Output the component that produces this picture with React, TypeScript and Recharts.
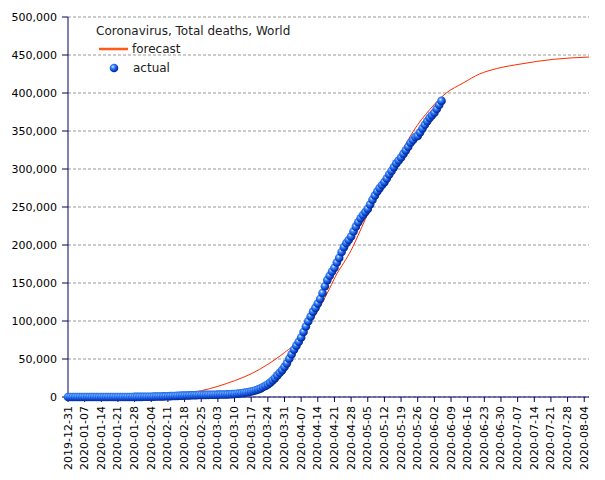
import React from 'react';
import { ComposedChart, Line, XAxis, YAxis, CartesianGrid, Legend } from 'recharts';

// Days counted from 2019-12-31 (day 0)
const START_DATE = Date.UTC(2019, 11, 31);

// Actual cumulative deaths, one value per day from 2019-12-31 to 2020-06-05
const actualDeaths: number[] = [
  // Dec 31 - Jan 31
  0, 0, 0, 0, 0, 0, 0, 0, 0, 0, 0, 1, 1, 1, 1, 1, 1, 2, 2, 3, 3, 6, 9, 17, 25, 41, 56, 80, 106, 132, 170, 213,
  // Feb 1 - Feb 29
  259, 304, 362, 426, 492, 565, 638, 724, 813, 910, 1018, 1115, 1369, 1383, 1526, 1669, 1775, 1873, 2009, 2126,
  2247, 2360, 2460, 2618, 2699, 2763, 2800, 2858, 2923,
  // Mar 1 - Mar 31
  2977, 3050, 3117, 3202, 3285, 3387, 3494, 3599, 3827, 4025, 4296, 4628, 4981, 5429, 5833, 6520, 7162, 7979,
  8951, 10029, 11402, 13047, 14641, 16558, 18896, 21813, 24860, 28430, 31810, 35356, 39605,
  // Apr 1 - Apr 30
  44272, 50322, 56203, 62273, 67594, 72617, 78300, 85522, 92836, 99690, 105952, 112322, 117217, 123010, 129044,
  136938, 145705, 153822, 159510, 165044, 169986, 176984, 183027, 190858, 197159, 202668, 206544, 211206, 217769,
  224172,
  // May 1 - May 31
  229971, 235290, 239448, 243401, 247503, 253381, 259474, 265084, 270426, 274861, 278892, 282709, 287399, 292825,
  297465, 302493, 307395, 311151, 315185, 319901, 324549, 329299, 334621, 338160, 342029, 343562, 348210, 353373,
  358236, 362869, 367255,
  // Jun 1 - Jun 5
  370657, 373973, 378890, 384271, 389620,
];

// Forecast curve (day offset, value)
const forecastDays: number[] = [
  42, 49, 56, 63, 70, 77, 84, 91, 98, 102, 106, 110, 113, 116, 119, 122, 125, 128, 132, 136, 140, 145, 152, 159,
  166, 173, 180, 190, 204, 219,
];
const forecastValues: number[] = [
  2000, 4500, 8300, 14000, 21500, 30500, 43000, 58500, 78000, 98000, 119000, 143000, 162000, 177000, 193000,
  213000, 234000, 253000, 276000, 298000, 321000, 349000, 378000, 400000, 413000, 425000, 432000, 438000, 444300,
  447300,
];

const xTicks: number[] = [
  0, 7, 14, 21, 28, 35, 42, 49, 56, 63, 70, 77, 84, 91, 98, 105, 112, 119, 126, 133, 140, 147, 154, 161, 168, 175,
  182, 189, 196, 203, 210, 217,
];
const yTicks: number[] = [0, 50000, 100000, 150000, 200000, 250000, 300000, 350000, 400000, 450000, 500000];

const LAST_DAY = 219;

type Row = { day: number; actual?: number; forecast?: number };
const rows: Row[] = [];
for (let d = 0; d <= LAST_DAY; d++) {
  const r: Row = { day: d };
  if (d < actualDeaths.length) r.actual = actualDeaths[d];
  const fi = forecastDays.indexOf(d);
  if (fi >= 0) r.forecast = forecastValues[fi];
  rows.push(r);
}

const dayToDate = (d: number) => new Date(START_DATE + d * 86400000).toISOString().slice(0, 10);

const FONT = '"DejaVu Sans", Verdana, sans-serif';
const AXIS_COLOR = '#000066';

const XTick = (props: any) => {
  const { x, y, payload } = props;
  return (
    <g transform={`translate(${x},${y})`}>
      <text
        transform="rotate(-90)"
        textAnchor="end"
        dominantBaseline="central"
        fontSize={11}
        fontFamily={FONT}
        fill="#000"
      >
        {dayToDate(payload.value)}
      </text>
    </g>
  );
};

const SphereDot = (props: any) => {
  const { cx, cy, payload, index } = props;
  if (payload == null || payload.actual == null || cx == null || cy == null) return <g key={`d${index}`} />;
  return <circle key={`d${index}`} cx={cx} cy={cy} r={4.3} fill="url(#sphereGrad)" />;
};

const LegendBox = () => (
  <svg width={230} height={60} style={{ display: 'block', overflow: 'visible' }}>
    <defs>
      <radialGradient id="sphereGradL" cx="38%" cy="35%" r="65%">
        <stop offset="0%" stopColor="#d8ecff" />
        <stop offset="30%" stopColor="#3f8cff" />
        <stop offset="75%" stopColor="#0a40c8" />
        <stop offset="100%" stopColor="#06288a" />
      </radialGradient>
    </defs>
    <text x={6} y={15} fontSize={12} fontFamily={FONT} fill="#222">
      Coronavirus, Total deaths, World
    </text>
    <line x1={9} x2={38} y1={29} y2={29} stroke="#ff5a1a" strokeWidth={2.5} />
    <text x={42} y={33.3} fontSize={12} fontFamily={FONT} fill="#222">
      forecast
    </text>
    <circle cx={24} cy={48} r={4.3} fill="url(#sphereGradL)" />
    <text x={43} y={52.3} fontSize={12} fontFamily={FONT} fill="#222">
      actual
    </text>
  </svg>
);

export default function App() {
  return (
    <div style={{ position: 'absolute', left: 0, top: 0, width: 605, height: 480, background: '#fff' }}>
      <ComposedChart width={605} height={480} data={rows} margin={{ top: 17, right: 16, bottom: 0, left: 8 }}>
        <defs>
          <radialGradient id="sphereGrad" cx="38%" cy="35%" r="65%">
            <stop offset="0%" stopColor="#d8ecff" />
            <stop offset="30%" stopColor="#3f8cff" />
            <stop offset="75%" stopColor="#0a40c8" />
            <stop offset="100%" stopColor="#06288a" />
          </radialGradient>
        </defs>
        <CartesianGrid vertical={false} stroke="#999" strokeDasharray="3 2" />
        <XAxis
          dataKey="day"
          type="number"
          domain={[0, LAST_DAY]}
          ticks={xTicks}
          interval={0}
          height={83}
          tick={<XTick />}
          tickSize={5}
          tickMargin={4}
          stroke={AXIS_COLOR}
          tickLine={{ stroke: AXIS_COLOR }}
          axisLine={{ stroke: AXIS_COLOR }}
        />
        <YAxis
          type="number"
          domain={[0, 500000]}
          ticks={yTicks}
          interval={0}
          width={60}
          tickSize={6}
          tickMargin={5}
          tickFormatter={(v: number) => v.toLocaleString('en-US')}
          tick={{ fontSize: 11, fontFamily: FONT, fill: '#000' }}
          tickLine={{ stroke: AXIS_COLOR }}
          axisLine={{ stroke: AXIS_COLOR }}
        />
        <Legend
          layout="vertical"
          align="center"
          verticalAlign="middle"
          content={() => <LegendBox />}
          wrapperStyle={{ left: 90, top: 20, width: 230, height: 60 }}
        />
        <Line
          dataKey="forecast"
          type="monotone"
          stroke="#ff2a00"
          strokeWidth={1}
          dot={false}
          activeDot={false}
          connectNulls
          isAnimationActive={false}
          legendType="line"
          name="forecast"
        />
        <Line
          dataKey="actual"
          stroke="none"
          strokeWidth={0}
          dot={<SphereDot />}
          activeDot={false}
          isAnimationActive={false}
          name="actual"
        />
      </ComposedChart>
    </div>
  );
}
